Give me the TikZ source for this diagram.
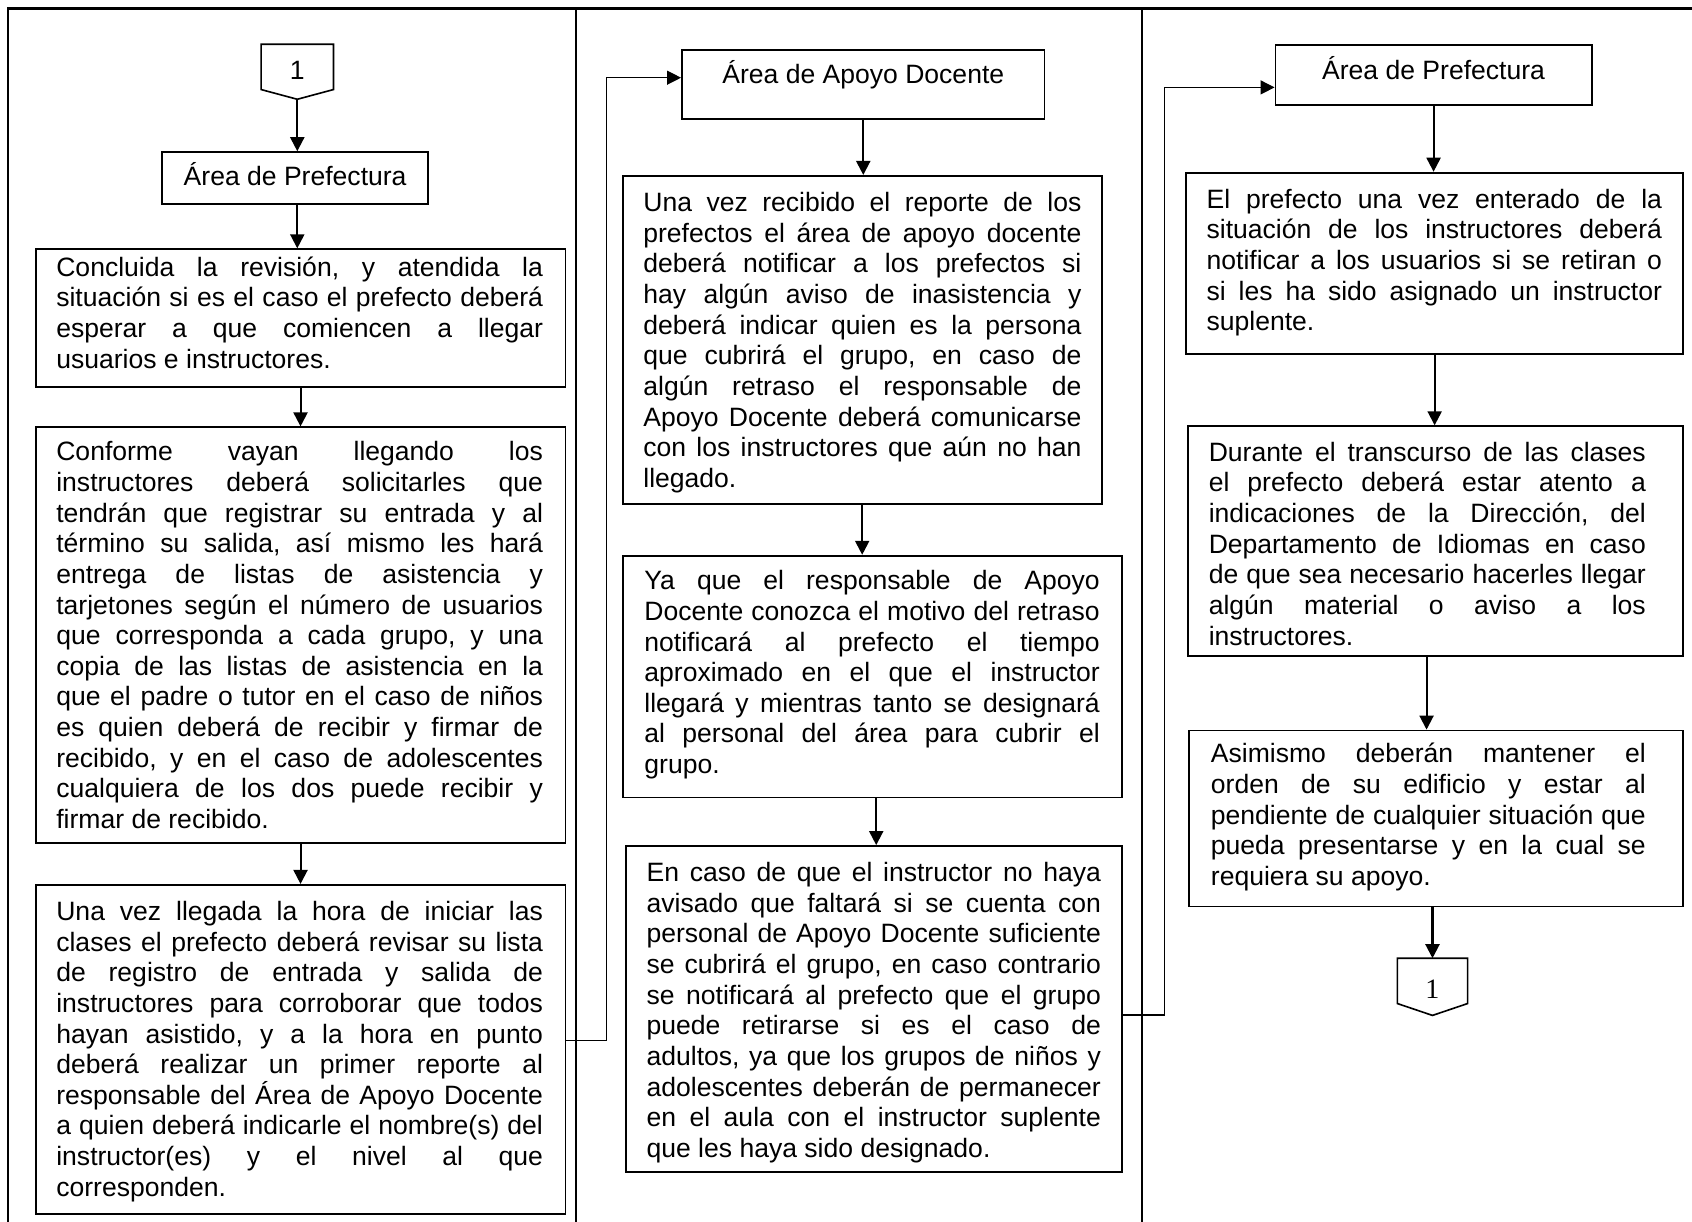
\documentclass[tikz,border=0pt]{standalone}
\usepackage{fontspec}
\setmainfont{Liberation Sans}
\newfontfamily\connserif{Liberation Serif}
\usetikzlibrary{arrows.meta}

% justified paragraph built line by line: \jl stretches a line to the full
% width, \lastln closes the paragraph flush left
\newcommand\lnstrut{\vrule height 20pt depth 0pt width 0pt\relax}
\newcommand\jl[1]{\hbox to\hsize{\lnstrut #1}}
\newcommand\lastln[1]{\hbox to\hsize{\lnstrut #1\hfil}}
\newcommand\parblock[2]{\vtop{\hsize=#1\relax\frenchspacing
  \lineskiplimit=-100pt\baselineskip=28.4pt\relax #2}}

% rectangle node given by its left, top, right and bottom edges
\newcommand\flowpanel[5]{%
  \node[panel, minimum width={(#4-#2)*1pt}, minimum height={(#5-#3)*1pt}]
    (#1) at ({(#2+#4)/2},{(#3+#5)/2}) {};}

\begin{document}
\begin{tikzpicture}[x=1pt,y=-1pt,
  font=\fontsize{24.6}{28.4}\selectfont,
  frame/.style={line width=2.2pt},
  panel/.style={draw, line width=1.7pt, inner sep=0pt},
  body/.style={anchor=base west, inner sep=0pt},
  title/.style={anchor=base, inner sep=0pt},
  flow/.style={line width=1.9pt, -{Triangle[length=13pt,width=13pt]}},
  link/.style={line width=1.1pt, line join=miter, -{Triangle[length=13pt,width=13pt]}},
  offpage/.style={line width=1.5pt, line join=miter}]

\useasboundingbox (0,0) rectangle (1568,1132);
\fill[white] (0,0) rectangle (1568,1132);

% swimlane frame
\draw[frame] (7.5,1132) -- (7.5,8) -- (1568,8);
\draw[frame] (534,8) -- (534,1132);
\draw[frame] (1058.5,8) -- (1058.5,1132);

% ---------------- lane 1 ----------------
\coordinate (c1tip) at (275.5,92);
\draw[offpage] (242,41) -- (309,41) -- (309,83) -- (c1tip) -- (242,83) -- cycle;
\node[title] (c1) at (275.5,74) {1};

\flowpanel{a1}{150}{141}{397}{189}
\node[title] (ta1) at (273.5,172) {Área de Prefectura};

\flowpanel{b1}{33}{231}{524}{359}
\node[body] (tb1) at (52,256) {\parblock{451pt}{%
\jl{Concluida la revisión, y atendida la}
\jl{situación si es el caso el prefecto deberá}
\jl{esperar a que comiencen a llegar}
\lastln{usuarios e instructores.}}};

\flowpanel{b2}{33}{396}{524}{781}
\node[body] (tb2) at (52,427) {\parblock{451pt}{%
\jl{Conforme vayan llegando los}
\jl{instructores deberá solicitarles que}
\jl{tendrán que registrar su entrada y al}
\jl{término su salida, así mismo les hará}
\jl{entrega de listas de asistencia y}
\jl{tarjetones según el número de usuarios}
\jl{que corresponda a cada grupo, y una}
\jl{copia de las listas de asistencia en la}
\jl{que el padre o tutor en el caso de niños}
\jl{es quien deberá de recibir y firmar de}
\jl{recibido, y en el caso de adolescentes}
\jl{cualquiera de los dos puede recibir y}
\lastln{firmar de recibido.}}};

\flowpanel{b3}{33}{820}{524}{1125}
\node[body] (tb3) at (52,853) {\parblock{451pt}{%
\jl{Una vez llegada la hora de iniciar las}
\jl{clases el prefecto deberá revisar su lista}
\jl{de registro de entrada y salida de}
\jl{instructores para corroborar que todos}
\jl{hayan asistido, y a la hora en punto}
\jl{deberá realizar un primer reporte al}
\jl{responsable del Área de Apoyo Docente}
\jl{a quien deberá indicarle el nombre(s) del}
\jl{instructor(es) y el nivel al que}
\lastln{corresponden.}}};

\draw[flow] (c1tip) -- (c1tip |- a1.north);
\draw[flow] (c1tip |- a1.south) -- (c1tip |- b1.north);
\draw[flow] (b1.south) -- (b1.south |- b2.north);
\draw[flow] (b2.south) -- (b2.south |- b3.north);

% ---------------- lane 2 ----------------
\flowpanel{a2}{632}{46}{968}{110}
\node[title] (ta2) at (800,77) {Área de Apoyo Docente};

\flowpanel{b4}{577}{163}{1021}{467}
\node[body] (tb4) at (596,196) {\parblock{406pt}{%
\jl{Una vez recibido el reporte de los}
\jl{prefectos el área de apoyo docente}
\jl{deberá notificar a los prefectos si}
\jl{hay algún aviso de inasistencia y}
\jl{deberá indicar quien es la persona}
\jl{que cubrirá el grupo, en caso de}
\jl{algún retraso el responsable de}
\jl{Apoyo Docente deberá comunicarse}
\jl{con los instructores que aún no han}
\lastln{llegado.}}};

\flowpanel{b5}{577}{515}{1040}{739}
\node[body] (tb5) at (597,546.5) {\parblock{422pt}{%
\jl{Ya que el responsable de Apoyo}
\jl{Docente conozca el motivo del retraso}
\jl{notificará al prefecto el tiempo}
\jl{aproximado en el que el instructor}
\jl{llegará y mientras tanto se designará}
\jl{al personal del área para cubrir el}
\lastln{grupo.}}};

\flowpanel{b6}{580}{784}{1040}{1086}
\node[body] (tb6) at (599,817) {\parblock{421pt}{%
\jl{En caso de que el instructor no haya}
\jl{avisado que faltará si se cuenta con}
\jl{personal de Apoyo Docente suficiente}
\jl{se cubrirá el grupo, en caso contrario}
\jl{se notificará al prefecto que el grupo}
\jl{puede retirarse si es el caso de}
\jl{adultos, ya que los grupos de niños y}
\jl{adolescentes deberán de permanecer}
\jl{en el aula con el instructor suplente}
\lastln{que les haya sido designado.}}};

\coordinate (k56) at (812,0);
\draw[flow] (a2.south) -- (a2.south |- b4.north);
\draw[flow] (b4.south) -- (b4.south |- b5.north);
\draw[flow] (k56 |- b5.south) -- (k56 |- b6.north);

% ---------------- lane 3 ----------------
\flowpanel{a3}{1182}{41.5}{1475}{97.3}
\node[title] (ta3) at (1328.5,74) {Área de Prefectura};

\flowpanel{b7}{1099}{160}{1560}{328}
\node[body] (tb7) at (1118,193) {\parblock{422pt}{%
\jl{El prefecto una vez enterado de la}
\jl{situación de los instructores deberá}
\jl{notificar a los usuarios si se retiran o}
\jl{si les ha sido asignado un instructor}
\lastln{suplente.}}};

\flowpanel{b8}{1101}{395}{1560}{608}
\node[body] (tb8) at (1120,427.5) {\parblock{405pt}{%
\jl{Durante el transcurso de las clases}
\jl{el prefecto deberá estar atento a}
\jl{indicaciones de la Dirección, del}
\jl{Departamento de Idiomas en caso}
\jl{de que sea necesario hacerles llegar}
\jl{algún material o aviso a los}
\lastln{instructores.}}};

\flowpanel{b9}{1102}{677}{1560}{840}
\node[body] (tb9) at (1122,707) {\parblock{403pt}{%
\jl{Asimismo deberán mantener el}
\jl{orden de su edificio y estar al}
\jl{pendiente de cualquier situación que}
\jl{pueda presentarse y en la cual se}
\lastln{requiera su apoyo.}}};

\coordinate (c2top) at (1327.5,888);
\coordinate (c2tip) at (1327.5,941);
\draw[offpage] (1295,888) -- (1360,888) -- (1360,930) -- (c2tip) -- (1295,930) -- cycle;
\node[title, font=\connserif\fontsize{26}{30}\selectfont] (c2) at (1327.5,925) {1};

\coordinate (k89) at (1322,0);
\draw[flow] (a3.south) -- (a3.south |- b7.north);
\draw[flow] (b7.south) -- (b7.south |- b8.north);
\draw[flow] (k89 |- b8.south) -- (k89 |- b9.north);
\draw[flow] (c2top |- b9.south) -- (c2top);

% ---------------- hand-offs between lanes ----------------
\coordinate (e1) at (562,964);
\coordinate (e1t) at (562,72);
\draw[link] (b3.east |- e1) -- (e1) -- (e1t) -- (a2.west |- e1t);

\coordinate (e2) at (1079,940.6);
\coordinate (e2t) at (1079,81);
\draw[link] (b6.east |- e2) -- (e2) -- (e2t) -- (a3.west |- e2t);

\end{tikzpicture}
\end{document}
